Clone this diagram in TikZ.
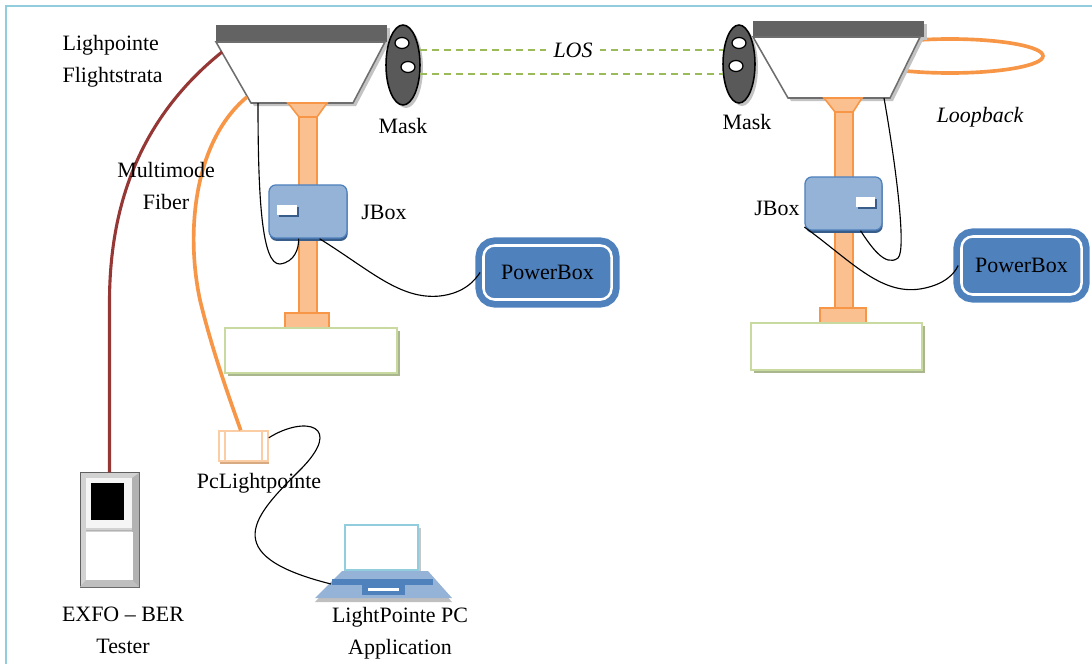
\documentclass[tikz,border=0pt]{standalone}
\usepackage{fontspec}
\setmainfont{Liberation Serif}
\usetikzlibrary{shadows}

\definecolor{framecol}{RGB}{146,205,221}
\definecolor{bargrey}{RGB}{99,99,99}
\definecolor{headline}{RGB}{110,110,110}
\definecolor{headshade}{RGB}{195,195,195}
\definecolor{maskgrey}{RGB}{89,89,89}
\definecolor{polefill}{RGB}{250,192,143}
\definecolor{poleline}{RGB}{247,150,70}
\definecolor{losgreen}{RGB}{155,187,89}
\definecolor{jboxfill}{RGB}{149,179,215}
\definecolor{jboxdark}{RGB}{56,93,138}
\definecolor{pwrblue}{RGB}{79,129,189}
\definecolor{bercable}{RGB}{149,55,53}
\definecolor{basegreen}{RGB}{200,218,160}
\definecolor{baseshade}{RGB}{170,182,142}
\definecolor{pclline}{RGB}{251,205,165}
\definecolor{pclshade}{RGB}{215,170,130}
\definecolor{lapcyan}{RGB}{146,205,221}

\tikzset{
	headbar/.style={fill=bargrey},
	headbody/.style={fill=white, draw=headline, line width=1.1pt},
	shadowpart/.style={fill=headshade},
	polepart/.style={fill=polefill, draw=poleline, line width=1.1pt},
	basebox/.style={fill=white, draw=basegreen, line width=1.5pt},
	maskbody/.style={fill=maskgrey, draw=black, line width=1.1pt},
	maskhole/.style={fill=white, draw=black, line width=0.9pt},
	losline/.style={draw=losgreen, line width=0.9pt, dash pattern=on 5pt off 3.5pt},
	cable/.style={draw=black, line width=0.8pt},
	fiber/.style={draw=poleline, line width=2.6pt},
	bercord/.style={draw=bercable, line width=2.2pt},
	jbox/.style={fill=jboxfill, draw=pwrblue, line width=0.9pt, rounded corners=5pt,
		minimum width=1.95cm, minimum height=1.33cm, inner sep=0pt,
		drop shadow={shadow xshift=0.5pt, shadow yshift=-2pt, fill=jboxdark, opacity=1}},
	pwrbox/.style={fill=pwrblue, draw=pwrblue, double=white, double distance=1.8pt,
		line width=4.8pt, rounded corners=8pt, inner sep=0pt},
	pclbox/.style={fill=white, draw=pclline, line width=1.1pt, minimum width=1.225cm,
		minimum height=0.75cm, inner sep=0pt,
		drop shadow={shadow xshift=1pt, shadow yshift=-2pt, fill=pclshade, opacity=1}},
	exfobox/.style={fill=gray!35, draw=gray!75!black, line width=0.7pt,
		minimum width=1.475cm, minimum height=2.85cm, inner sep=0pt},
	lbl/.style={inner sep=1pt},
}

\begin{document}
\begin{tikzpicture}[x=0.025cm, y=-0.025cm, font=\fontsize{15.6}{22.8}\selectfont]

	\useasboundingbox (0,0) rectangle (1092,664);
	\draw[framecol, line width=1.6pt] (6,664) -- (6,6) -- (1092,6);

	% left flightstrata head and mast
	\fill[shadowpart] (219,28) rectangle (390,45);
	\fill[headbar] (216,25) rectangle (387,42);
	\fill[shadowpart] (219,45) -- (388,45) -- (356,106) -- (254,106) -- cycle;
	\draw[headbody] (216,42) -- (385,42) -- (353,103) -- (251,103) -- cycle;
	\draw[polepart] (288,103) -- (327,103) -- (317,117) -- (299,117) -- cycle;
	\draw[polepart] (299,117) rectangle (317,313);
	\draw[polepart] (285,313) rectangle (329,328);
	\fill[baseshade] (228,331) rectangle (400,376);
	\draw[basebox] (225,328) rectangle (397,373);

	\coordinate (hdLber) at (222,52);
	\coordinate (hdLfiber) at (247,97);
	\coordinate (hdLcable) at (258,103);

	% loopback fiber, behind the right head
	\draw[fiber] (950,56) ellipse (93 and 17);

	% right flightstrata head and mast
	\fill[shadowpart] (756,24) rectangle (927,40);
	\fill[headbar] (753,21) rectangle (924,37);
	\fill[shadowpart] (756,40) -- (923,40) -- (893,101) -- (791,101) -- cycle;
	\draw[headbody] (753,37) -- (920,37) -- (890,98) -- (788,98) -- cycle;
	\draw[polepart] (824,98) -- (862,98) -- (853,112) -- (835,112) -- cycle;
	\draw[polepart] (835,112) rectangle (853,308);
	\draw[polepart] (820,308) rectangle (866,323);
	\fill[baseshade] (754,326) rectangle (925,373);
	\draw[basebox] (751,323) rectangle (922,370);

	\coordinate (hdRcable) at (884,98);

	% masks
	\fill[shadowpart] (406,68) ellipse (17 and 40);
	\draw[maskbody] (403,65) ellipse (17 and 40);
	\draw[maskhole] (402,43) ellipse (7 and 5.5);
	\draw[maskhole] (408,67) ellipse (7 and 5.5);

	\fill[shadowpart] (742,67) ellipse (16 and 39);
	\draw[maskbody] (739,64) ellipse (16 and 39);
	\draw[maskhole] (739,43) ellipse (7 and 5.5);
	\draw[maskhole] (736,66) ellipse (7 and 5.5);

	% line of sight
	\coordinate (losA1) at (420,50);
	\coordinate (losA2) at (420,74);
	\coordinate (losB1) at (723,50);
	\coordinate (losB2) at (723,74);
	\draw[losline] (losA1) -- (losB1);
	\draw[losline] (losA2) -- (losB2);
	\node[lbl, fill=white, inner sep=5pt] (lblLOS) at (573,50) {\itshape LOS};

	% junction boxes
	\node[jbox] (jboxL) at (308,211.5) {};
	\fill[jboxdark] (279,207) rectangle (299,217);
	\fill[white] (277,205) rectangle (297,215);
	\node[jbox, minimum width=1.925cm] (jboxR) at (843.5,203.5) {};
	\fill[jboxdark] (858,199) rectangle (877,209);
	\fill[white] (856,197) rectangle (875,207);

	% power boxes
	\node[pwrbox, minimum width=3.2cm, minimum height=1.35cm] (pwrL) at (547.5,272.5) {PowerBox};
	\node[pwrbox, minimum width=3.0cm, minimum height=1.45cm] (pwrR) at (1021.5,265.5) {PowerBox};

	% power and data cables
	\draw[cable] (hdLcable) .. controls (258,200) and (262,265) .. (280,264)
		.. controls (295,262) and (299,248) .. (jboxL.-109);
	\draw[cable] (jboxL.-67) .. controls (370,270) and (400,300) .. (440,296)
		.. controls (465,293) and (475,280) .. (pwrL.west);
	\draw[cable] (hdRcable) .. controls (895,160) and (907,250) .. (898,258)
		.. controls (885,268) and (870,245) .. (jboxR.-58);
	\draw[cable] (jboxR.-149) .. controls (850,260) and (880,295) .. (920,289)
		.. controls (945,285) and (955,273) .. (pwrR.west);

	% EXFO tester
	\node[exfobox] (exfo) at (109.5,530) {};
	\fill[gray!60] (132,478) -- (139,473) -- (139,587) -- (132,580) -- cycle;
	\fill[gray!50] (86,580) -- (132,580) -- (139,587) -- (80,587) -- cycle;
	\fill[gray!8] (86,478) rectangle (132,528);
	\fill[black] (91,483) rectangle (124,520);
	\draw[gray!60, line width=0.6pt] (86,530) -- (132,530);
	\draw[white, fill=white, line width=0.4pt] (86,532) rectangle (132,579);
	\draw[bercord] (hdLber) .. controls (150,110) and (110,190) .. (109.5,300) -- (exfo.north);

	% PcLightpointe converter
	\node[pclbox] (pcl) at (243.5,446) {};
	\draw[pclline, line width=1.1pt] (225,431) -- (225,461) (262,431) -- (262,461);
	\draw[fiber] (hdLfiber) .. controls (195,140) and (185,230) .. (200,300)
		.. controls (212,350) and (230,400) .. (pcl.100);

	% laptop
	\fill[gray!45] (348,528) rectangle (421,573);
	\draw[lapcyan, fill=white, line width=1.1pt] (345,525) rectangle (418,570);
	\fill[gray!50] (342,574) -- (428,574) -- (452,602) -- (315,602) -- cycle;
	\fill[jboxfill] (342,571) -- (428,571) -- (452,598) -- (315,598) -- cycle;
	\fill[pwrblue] (332,579) rectangle (433,585);
	\fill[pwrblue] (362,585) rectangle (405,595);
	\fill[white] (368,588) rectangle (399,591);
	\coordinate (lapin) at (331,584);
	\draw[cable] (pcl.18) .. controls (305,415) and (345,425) .. (300,470)
		.. controls (255,515) and (215,555) .. (lapin);

	% labels
	\node[lbl, anchor=west, align=left] (lblFS) at (61,61) {Lighpointe\\Flightstrata};
	\node[lbl, align=center] (lblMM) at (166,186) {Multimode\\Fiber};
	\node[lbl] (lblMaskL) at (403,126) {Mask};
	\node[lbl] (lblMaskR) at (747,122) {Mask};
	\node[lbl] (lblLoop) at (980,117) {\itshape Loopback};
	\node[lbl] (lblJL) at (384,212) {JBox};
	\node[lbl] (lblJR) at (777,208) {JBox};
	\node[lbl] (lblPcl) at (259,483) {PcLightpointe};
	\node[lbl, align=center] (lblApp) at (400,633) {LightPointe PC\\Application};
	\node[lbl, align=center] (lblExfo) at (123,630) {EXFO – BER\\Tester};

\end{tikzpicture}
\end{document}
